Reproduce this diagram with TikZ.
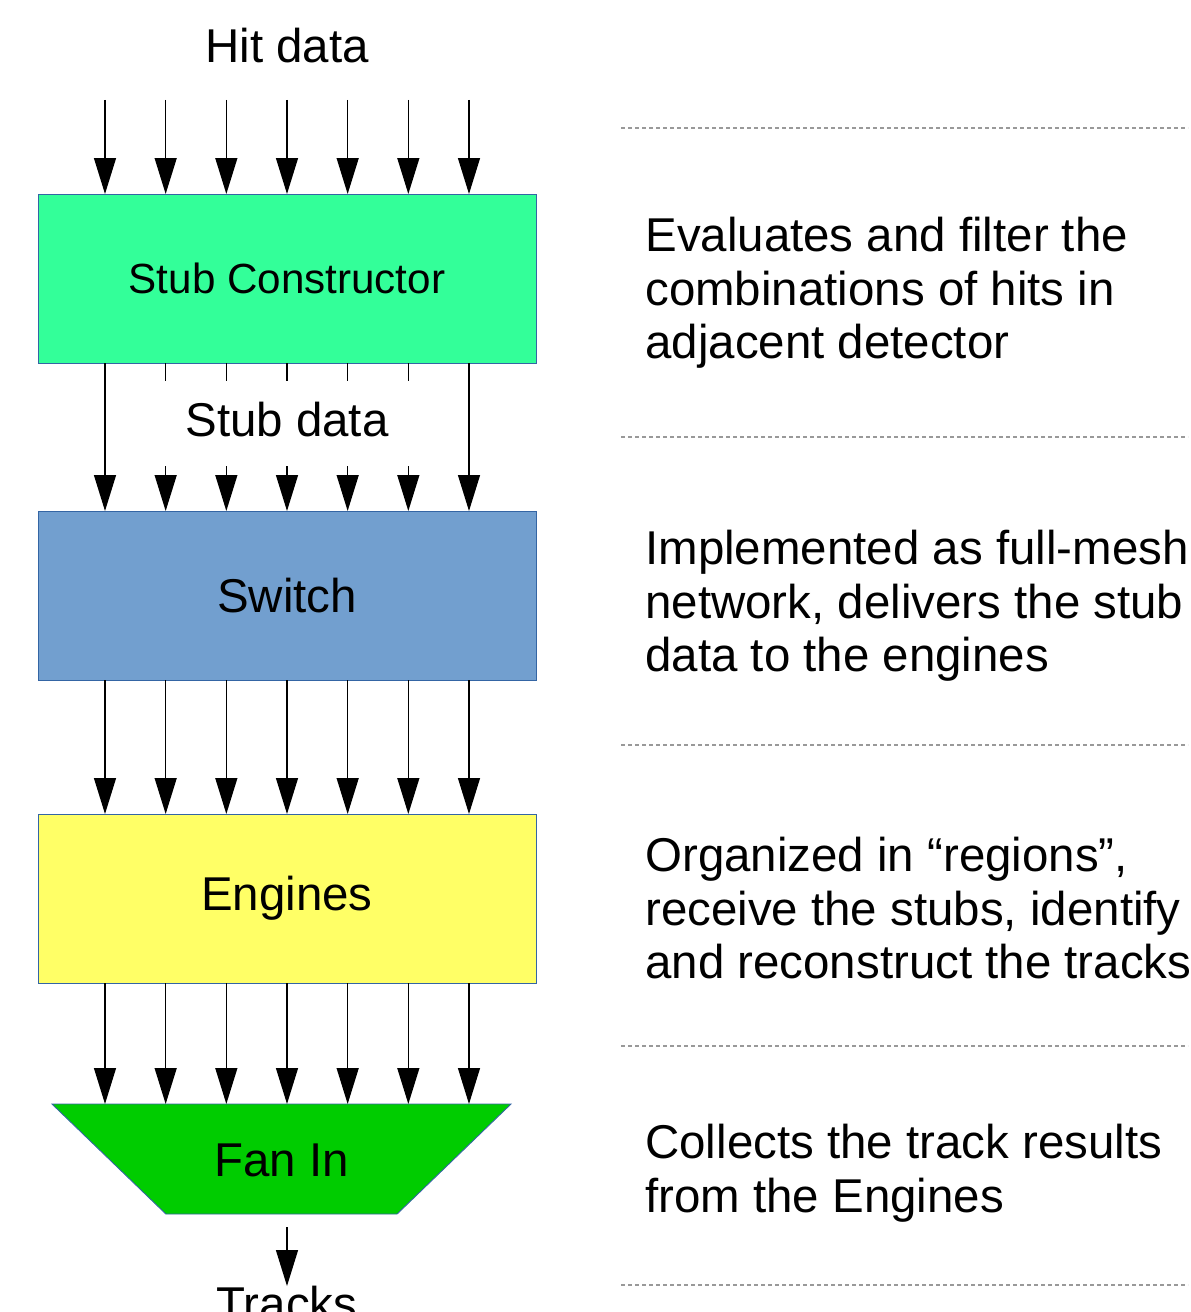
\documentclass[tikz,border=0pt]{standalone}
\usepackage{fontspec}
\setmainfont{Liberation Sans}
\usetikzlibrary{arrows.meta,positioning,calc,shapes.geometric}
\definecolor{stubgreen}{HTML}{33FF99}
\definecolor{switchblue}{HTML}{729FCF}
\definecolor{engyellow}{HTML}{FFFF66}
\definecolor{fangreen}{HTML}{00CC00}
\definecolor{edgeblue}{HTML}{3465A4}
\tikzset{
  blk/.style={draw=edgeblue,line width=0.5pt,rectangle,minimum width=9.96cm,minimum height=3.38cm,outer sep=0pt,font=\fontsize{27}{30}\selectfont},
  stubblk/.style={blk,fill=stubgreen,font=\fontsize{24}{28}\selectfont},
  swblk/.style={blk,fill=switchblue},
  engblk/.style={blk,fill=engyellow},
  fanblk/.style={trapezium,shape border rotate=180,trapezium left angle=44,trapezium right angle=44,trapezium stretches body=true,text height=0.69cm,text depth=0cm,inner ysep=0.755cm,minimum width=9.18cm,minimum height=2.2cm,draw=edgeblue,line width=0.5pt,fill=fangreen,outer sep=0pt,font=\fontsize{27}{30}\selectfont},
  arr/.style={-{Triangle[width=0.44cm,length=0.72cm]},line width=0.75pt},
  lbl/.style={font=\fontsize{27}{30}\selectfont,inner sep=0pt},
  desc/.style={lbl,align=left,anchor=north west,font=\fontsize{27}{30.4}\selectfont},
  sep/.style={gray!80,line width=0.04cm,dash pattern=on 0.08cm off 0.06cm}
}
\begin{document}
\begin{tikzpicture}
  \useasboundingbox (0,0) rectangle (23.82,-26.24);
  % processing chain
  \node[stubblk] (sc) at (5.74,-5.57) {Stub Constructor};
  \node[swblk, below=2.96cm of sc] (sw) {Switch};
  \node[engblk, below=2.68cm of sw] (eng) {Engines};
  \node[fanblk, below=2.42cm of eng, xshift=-0.11cm] (fan) {Fan In};
  \coordinate[above=1.88cm of sc] (hit);
  \coordinate (fanout) at (eng.south |- fan.south);
  \node[lbl, above=0.74cm of hit] (hitlbl) {Hit data};

  \foreach \i in {-3,...,3} {
    \draw[arr] ([xshift=\i*1.2133cm]hit) -- ([xshift=\i*1.2133cm]sc.north);
    \draw[arr] ([xshift=\i*1.2133cm]sc.south) -- ([xshift=\i*1.2133cm]sw.north);
    \draw[arr] ([xshift=\i*1.2133cm]sw.south) -- ([xshift=\i*1.2133cm]eng.north);
    \draw[arr] ([xshift=\i*1.2133cm]eng.south) -- ([xshift=\i*1.2133cm]eng.south |- fan.north);
  }
  \node[lbl, fill=white, minimum width=6cm, minimum height=1.7cm, text depth=0.2cm, below=0.36cm of sc] (stubd) {Stub data};
  \node[lbl, below=1.44cm of fanout] (trk) {Tracks};
  \draw[arr] ([yshift=-0.26cm]fanout) -- (trk);

  % descriptions
  \foreach \y in {2.56,8.74,14.90,20.92,25.70}
    \draw[sep] (12.42,-\y) -- (23.76,-\y);
  \node[desc] (d1) at (12.9,-4.34) {Evaluates and filter the\\combinations of hits in\\adjacent detector};
  \node[desc] (d2) at (12.9,-10.6) {Implemented as full-mesh\\network, delivers the stub\\data to the engines};
  \node[desc] (d3) at (12.9,-16.74) {Organized in “regions”,\\receive the stubs, identify\\and reconstruct the tracks};
  \node[desc] (d4) at (12.9,-22.48) {Collects the track results\\from the Engines};
\end{tikzpicture}
\end{document}
